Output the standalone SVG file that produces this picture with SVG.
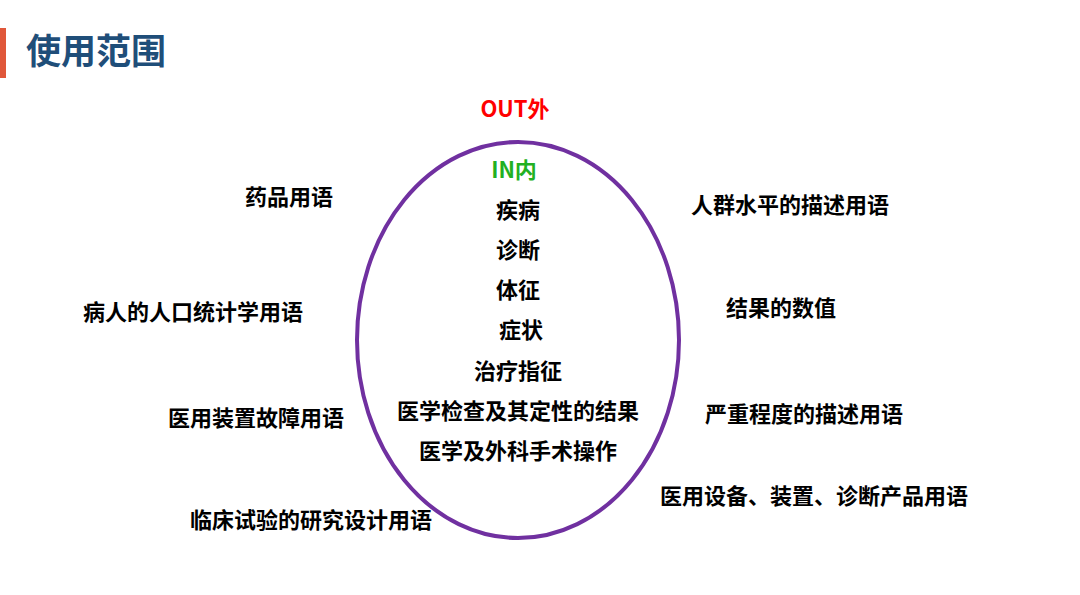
<svg xmlns="http://www.w3.org/2000/svg" width="1080" height="595" viewBox="0 0 1080 595">
<style>
text{font-family:"Noto Sans CJK SC","Noto Sans",sans-serif;font-weight:bold;font-size:22px;fill:#000}
.c{text-anchor:middle}
</style>
<rect width="1080" height="595" fill="#fff"/>
<rect x="0" y="28" width="6" height="50" fill="#E0573A"/>
<text x="26" y="64" style="font-size:35px;fill:#1F4E79">使用范围</text>
<g id="circle"><ellipse cx="518" cy="340" rx="161" ry="198" fill="none" stroke="#7030A0" stroke-width="4"/></g>
<g id="out"><text x="515" y="117" class="c" style="fill:#FF0000">OUT外</text></g>
<g id="in">
<text x="514" y="178" class="c" style="fill:#22B022">IN内</text>
<text x="518" y="218" class="c">疾病</text>
<text x="518" y="258" class="c">诊断</text>
<text x="518" y="298" class="c">体征</text>
<text x="521" y="338" class="c">症状</text>
<text x="518" y="379" class="c">治疗指征</text>
<text x="518" y="419" class="c">医学检查及其定性的结果</text>
<text x="518" y="459" class="c">医学及外科手术操作</text>
</g>
<g id="left">
<text x="289" y="205" class="c">药品用语</text>
<text x="193" y="320" class="c">病人的人口统计学用语</text>
<text x="256" y="426" class="c">医用装置故障用语</text>
<text x="311" y="528" class="c">临床试验的研究设计用语</text>
</g>
<g id="right">
<text x="790" y="213" class="c">人群水平的描述用语</text>
<text x="781" y="316" class="c">结果的数值</text>
<text x="804" y="422" class="c">严重程度的描述用语</text>
<text x="814" y="504" class="c">医用设备、装置、诊断产品用语</text>
</g>
</svg>
